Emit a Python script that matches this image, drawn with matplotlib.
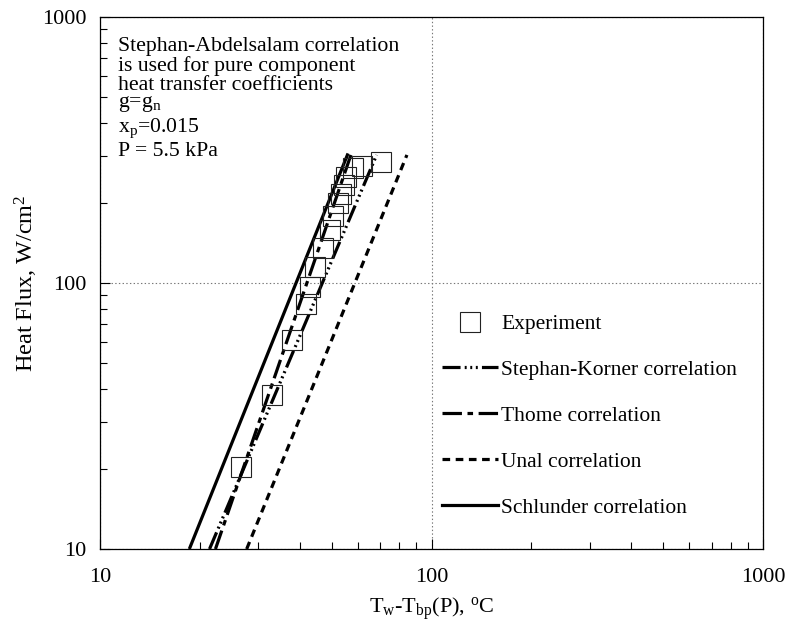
import matplotlib
matplotlib.use("Agg")
import matplotlib.pyplot as plt
from matplotlib.lines import Line2D
from matplotlib.ticker import LogLocator, NullFormatter, FixedLocator, FixedFormatter

plt.rcParams['font.family'] = ['Liberation Serif', 'DejaVu Serif']
plt.rcParams['mathtext.fontset'] = 'custom'
plt.rcParams['mathtext.rm'] = 'Liberation Serif'
plt.rcParams['mathtext.it'] = 'Liberation Serif:italic'
plt.rcParams['lines.scale_dashes'] = False

# Experimental boiling data: wall superheat (degC) and heat flux (W/cm2)
exp_dT = [26.6, 33.0, 38.0, 41.8, 43.0, 44.5, 47.1, 49.4, 50.4, 52.2, 53.3, 54.5, 55.2, 58.0, 61.7, 70.4]
exp_q = [20.3, 37.9, 61.1, 83.4, 96.6, 115, 135, 158, 179, 200, 216, 234, 250, 271, 275, 285]

# Correlation predictions (straight lines on log-log axes)
schlunder_dT = [18.6, 56.0]
schlunder_q = [10, 307]
thome_dT = [22.3, 57.4]
thome_q = [10, 308]
korner_dT = [21.4, 68.3]
korner_q = [10, 303]
unal_dT = [27.7, 84.3]
unal_q = [10, 303]

axis_ticks = [10, 100, 1000]
axis_ticklabels = ['10', '100', '1000']

fig = plt.figure(figsize=(7.87, 6.21), dpi=100)
ax = fig.add_axes([100 / 787, 1 - 549 / 621, 663 / 787, 532 / 621])
ax.set_xscale('log')
ax.set_yscale('log')
ax.set_xlim(10, 1000)
ax.set_ylim(10, 1000)

lw = 2.3
korner_dash = (13, 3, 1.4, 2.6, 1.4, 2.6, 1.4, 3)
thome_dash = (14, 4, 4, 4)
unal_dash = (5.5, 4)

ax.plot(korner_dT, korner_q, color='black', lw=lw, dashes=korner_dash)
ax.plot(thome_dT, thome_q, color='black', lw=lw, dashes=thome_dash)
ax.plot(unal_dT, unal_q, color='black', lw=lw, dashes=unal_dash)
ax.plot(schlunder_dT, schlunder_q, color='black', lw=lw, solid_capstyle='butt')
ax.plot(exp_dT, exp_q, linestyle='none', marker='s', markersize=14,
        markerfacecolor='none', markeredgecolor='#222222', markeredgewidth=0.8)

ax.grid(True, which='major', linestyle=':', color='#777777', lw=0.8)

for axis in (ax.xaxis, ax.yaxis):
    axis.set_major_locator(FixedLocator(axis_ticks))
    axis.set_major_formatter(FixedFormatter(axis_ticklabels))
    axis.set_minor_locator(LogLocator(base=10, subs=range(2, 10)))
    axis.set_minor_formatter(NullFormatter())
ax.tick_params(which='both', direction='in', top=False, right=False, labelsize=16)
ax.tick_params(which='major', length=7, width=0.8)
ax.tick_params(which='minor', length=5, width=0.8)
ax.tick_params(axis='x', pad=14)
ax.tick_params(axis='y', pad=10)
for s in ax.spines.values():
    s.set_linewidth(0.9)

ax.set_xlabel(r'T$_{\mathrm{w}}$-T$_{\mathrm{bp}}$(P), $^{\mathrm{o}}$C', fontsize=16, labelpad=6)
ax.set_ylabel(r'Heat Flux, W/cm$^{\mathrm{2}}$', fontsize=17.5, labelpad=1)

notes = ['Stephan-Abdelsalam correlation',
         'is used for pure component',
         'heat transfer coefficients',
         r'g=g$_{\mathrm{n}}$',
         r'x$_{\mathrm{p}}$=0.015',
         'P = 5.5 kPa']
note_y = [47, 66, 85, 104, 128, 151]
for txt, ypx in zip(notes, note_y):
    ax.text((118 - 100) / 663, (549 - ypx) / 532, txt, transform=ax.transAxes,
            fontsize=15.7, va='center', ha='left')

handles = [
    Line2D([], [], linestyle='none', marker='s', markersize=14,
           markerfacecolor='none', markeredgecolor='#222222', markeredgewidth=0.8),
    Line2D([], [], color='black', lw=lw, dashes=korner_dash),
    Line2D([], [], color='black', lw=lw, dashes=thome_dash),
    Line2D([], [], color='black', lw=lw, dashes=unal_dash),
    Line2D([], [], color='black', lw=lw),
]
labels = ['Experiment', 'Stephan-Korner correlation', 'Thome correlation',
          'Unal correlation', 'Schlunder correlation']
ax.legend(handles, labels, loc='upper left',
          bbox_to_anchor=((442 - 100) / 663, (549 - 314) / 532),
          frameon=False, fontsize=15.5, handlelength=2.6, handletextpad=0.15,
          labelspacing=1.2, borderaxespad=0, borderpad=0)

fig.savefig('out.png', dpi=100)
